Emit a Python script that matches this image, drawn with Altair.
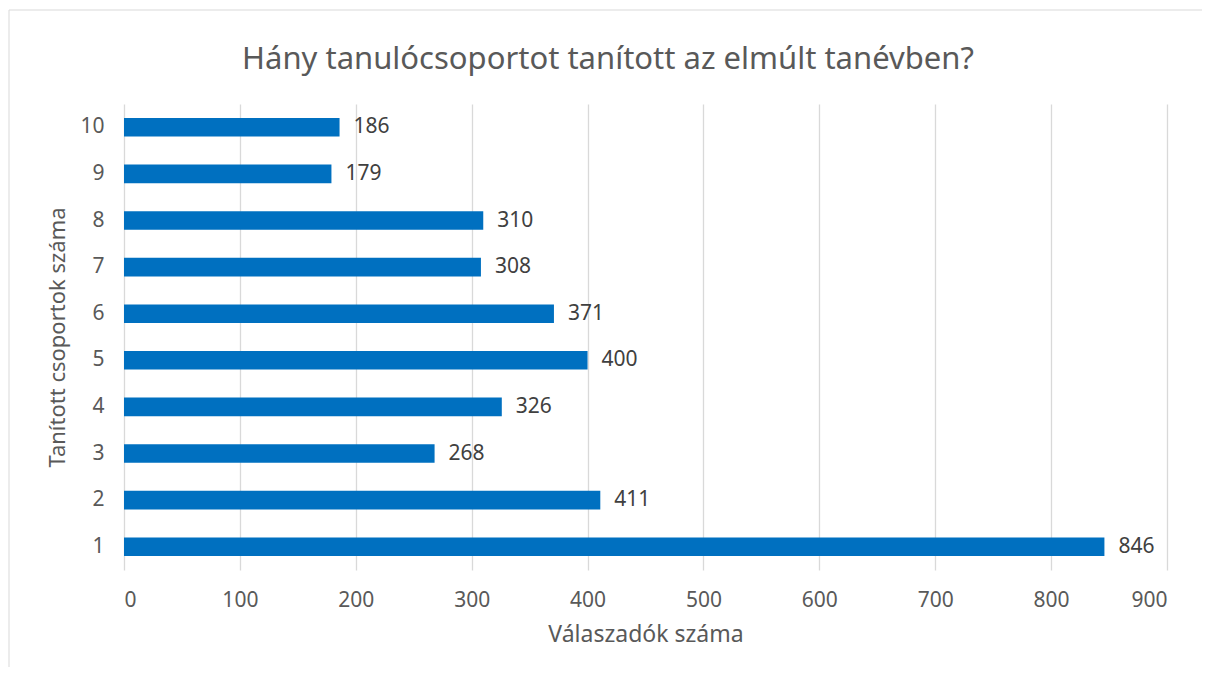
import altair as alt
import pandas as pd

categories = ["1", "2", "3", "4", "5", "6", "7", "8", "9", "10"]
values = [846, 411, 268, 326, 400, 371, 308, 310, 179, 186]
title_text = ["Hány tanulócsoportot tanított az elmúlt tanévben?"]

df = pd.DataFrame({"cat": categories, "val": values})
order = categories[::-1]
FONT = "Noto Sans"

base = alt.Chart(df)

border = base.mark_rect(fillOpacity=0, stroke="#D9D9D9", strokeWidth=1).encode(
    x=alt.value(-115), x2=alt.value(1200), y=alt.value(-94), y2=alt.value(600)
).transform_filter(alt.datum.cat == "1")

title = alt.Chart(pd.DataFrame({"t": title_text})).mark_text(
    fontSize=31, font=FONT, color="#595959", align="center", baseline="middle"
).encode(x=alt.value(484), y=alt.value(-44), text="t:N")

bars = base.mark_bar(color="#0070C0").encode(
    x=alt.X("val:Q", scale=alt.Scale(domain=[0, 900], nice=False),
            axis=alt.Axis(values=list(range(0, 1000, 100)), title="Válaszadók száma",
                          grid=True, gridColor="#D9D9D9", gridWidth=1.3, domain=False, ticks=False,
                          labelFontSize=21, labelColor="#595959", labelPadding=19, labelFont=FONT,
                          titleFontSize=23, titleColor="#595959", titleFont=FONT, titleFontWeight="normal",
                          titlePadding=13)),
    y=alt.Y("cat:N", sort=order, scale=alt.Scale(paddingInner=0.6, paddingOuter=0.3),
            axis=alt.Axis(title="Tanított csoportok száma", domain=False, ticks=False, grid=False,
                          labelFontSize=21, labelColor="#595959", labelPadding=20, labelFont=FONT,
                          titleFontSize=22, titleColor="#595959", titleFont=FONT, titleFontWeight="normal",
                          titlePadding=10)),
)

labels = base.mark_text(align="left", dx=14, fontSize=21, color="#404040", font=FONT).encode(
    x="val:Q", y=alt.Y("cat:N", sort=order), text="val:Q"
)

chart = alt.layer(border, title, bars, labels).properties(
    width=1043, height=466,
    autosize=alt.AutoSizeParams(type="none"),
    padding={"left": 116, "top": 96, "right": 35, "bottom": 97},
).configure(background="white").configure_view(strokeWidth=0, stroke="transparent")

chart.save("out.html", embed_options={"renderer": "svg", "actions": False})
